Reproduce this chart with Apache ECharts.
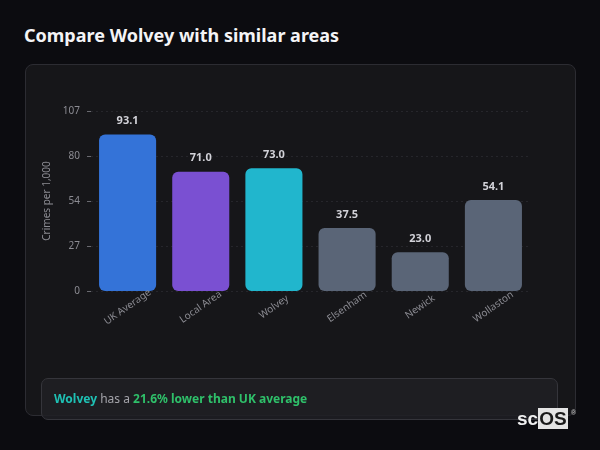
<!DOCTYPE html>
<html>
<head>
<meta charset="utf-8">
<script src="https://cdn.jsdelivr.net/npm/echarts@6/dist/echarts.min.js"></script>
<style>
  html, body { margin: 0; padding: 0; background: #0c0c10; width: 600px; height: 450px; overflow: hidden; font-family: "Noto Sans", sans-serif; }
  .title { position: absolute; left: 24px; top: 23px; color: #f4f4f6; font-size: 18px; font-weight: bold; }
  .card { position: absolute; left: 25px; top: 64px; width: 549px; height: 350px; background: #161619; border: 1px solid #2c2c32; border-radius: 8px; }
  #chart { position: absolute; left: 0; top: 0; width: 600px; height: 450px; }
  .summary { position: absolute; left: 41px; top: 378px; width: 517px; height: 42px; background: rgba(32, 32, 37, 0.85); border: 1px solid #35353b; border-radius: 7px; font-size: 12px; line-height: 40px; padding-left: 12px; box-sizing: border-box; color: #a4a4aa; }
  .summary .place { color: #1fc1b4; font-weight: bold; }
  .summary .diff { color: #2fc06a; font-weight: bold; }
  .logo { position: absolute; left: 517px; top: 410px; font-family: "Liberation Sans", sans-serif; font-size: 19px; font-weight: bold; line-height: 18px; color: #f0f0f0; }
  .logo span { background: #e4e4e4; color: #1a1a1a; padding: 0 1px; }
  .logo sup { position: absolute; left: 54px; top: -6px; font-size: 7px; color: #bbb; }
</style>
</head>
<body>
<div class="title">Compare Wolvey with similar areas</div>
<div class="card"></div>
<div id="chart"></div>
<div class="summary"><span class="place">Wolvey</span> has a <span class="diff" id="diff"></span></div>
<div class="logo">sc<span>OS</span><sup>®</sup></div>
<script>
// 地区与犯罪率数据
var areas = ['UK Average', 'Local Area', 'Wolvey', 'Elsenham', 'Newick', 'Wollaston'];
var rates = [93.1, 71.0, 73.0, 37.5, 23.0, 54.1];
var barColors = ['#3473d8', '#7a50d2', '#21b6cd', '#5a6577', '#5a6577', '#5a6577'];
var yMax = 107.07;

// 底部说明
var pct = ((rates[0] - rates[2]) / rates[0] * 100).toFixed(1);
document.getElementById('diff').innerHTML = pct + '% lower than UK average';

var myChart = echarts.init(document.getElementById('chart'));

var data = [];
for (var i = 0; i < rates.length; i++) {
  data.push({
    value: rates[i],
    itemStyle: { color: barColors[i], borderRadius: 6 }
  });
}

var options = {
  backgroundColor: 'transparent',
  animation: false,
  textStyle: { fontFamily: 'Noto Sans' },
  grid: { left: 91, right: 70, top: 111, bottom: 159 },
  xAxis: {
    type: 'category',
    data: areas,
    z: 10,
    axisLine: { show: false },
    axisTick: { show: false },
    axisLabel: {
      color: '#8c8c93', fontSize: 10, rotate: 35, margin: 16, interval: 0,
      align: 'center', verticalAlign: 'middle'
    }
  },
  yAxis: {
    type: 'value',
    min: 0,
    max: yMax,
    interval: yMax / 4,
    name: 'Crimes per 1,000',
    nameLocation: 'middle',
    nameGap: 34,
    nameTextStyle: { color: '#8c8c93', fontSize: 10 },
    axisLine: { show: false },
    axisTick: { show: true, length: 4, lineStyle: { color: '#6a6a70' } },
    axisLabel: {
      color: '#8c8c93', fontSize: 10, margin: 11,
      formatter: function (v) { return Math.round(v); }
    },
    splitLine: { lineStyle: { color: '#26262b', type: [2, 3] } }
  },
  series: [{
    type: 'bar',
    data: data,
    barCategoryGap: '22%',
    label: {
      show: true,
      position: 'top',
      distance: 8,
      color: '#d2d2d8',
      fontSize: 11,
      fontWeight: 'bold',
      formatter: function (p) { return p.value.toFixed(1); }
    }
  }]
};
myChart.setOption(options);
</script>
</body>
</html>
